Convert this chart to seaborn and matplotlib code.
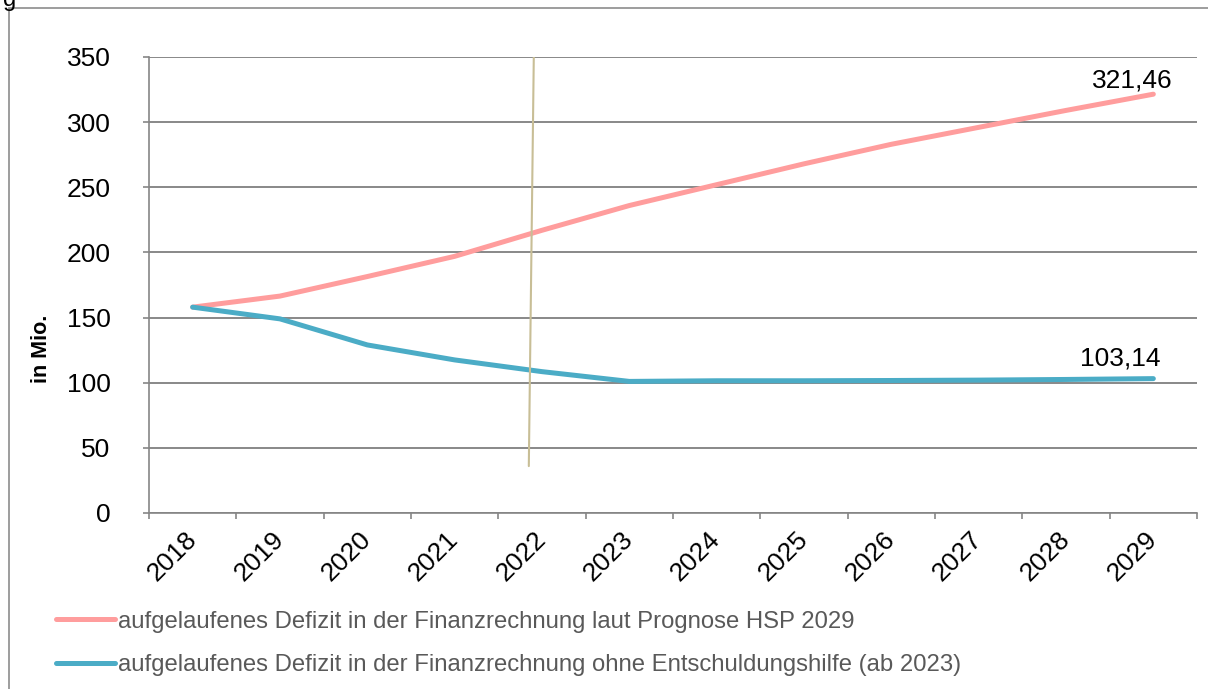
from matplotlib import pyplot as plt
from matplotlib.lines import Line2D
from matplotlib.patches import Rectangle
import seaborn as sns
import pandas as pd

years = [2018, 2019, 2020, 2021, 2022, 2023, 2024, 2025, 2026, 2027, 2028, 2029]
prognose = [158, 166.5, 181.5, 197, 217, 236, 252, 268, 283, 296, 309, 321.46]
ohne_hilfe = [158, 149, 129, 117.5, 108.5, 101, 101.5, 101.5, 101.7, 102, 102.5, 103.14]
labels = ["aufgelaufenes Defizit in der Finanzrechnung laut Prognose HSP 2029",
          "aufgelaufenes Defizit in der Finanzrechnung ohne Entschuldungshilfe (ab 2023)"]
end_labels = ["321,46", "103,14"]
# hand-drawn marker line (x in category index, y in data units)
marker_x = [3.906, 3.849]
marker_y = [350, 36]

colors = ["#FF9D9D", "#4BACC6"]

df = pd.DataFrame({
    "idx": list(range(len(years))) * 2,
    "value": prognose + ohne_hilfe,
    "series": [labels[0]] * len(years) + [labels[1]] * len(years),
})

sns.set_style("white")
plt.rcParams['font.family'] = ['Liberation Sans', 'DejaVu Sans']
plt.rcParams['text.color'] = 'black'
plt.rcParams['xtick.color'] = 'black'
plt.rcParams['ytick.color'] = 'black'
plt.rcParams['axes.labelcolor'] = 'black'

fig = plt.figure(figsize=(12.08, 6.89), dpi=100)
ax = fig.add_axes([149 / 1208, 1 - 513 / 689, (1197 - 149) / 1208, (513 - 57) / 689])

sns.lineplot(data=df, x="idx", y="value", hue="series", palette=colors,
             linewidth=3.6, ax=ax, legend=False, zorder=3)
for line in ax.lines:
    line.set_solid_capstyle("round")

ax.plot(marker_x, marker_y, color="#C8BE96", linewidth=1.5, zorder=4)

ax.set_xlim(-0.5, len(years) - 0.5)
ax.set_ylim(0, 350)
ax.set_yticks(range(0, 351, 50))
ax.yaxis.grid(True, color="#7F7F7F", linewidth=1.3)
ax.xaxis.grid(False)
ax.set_axisbelow(True)

ax.set_xticks(range(len(years)))
ax.set_xticklabels([str(y) for y in years], rotation=45, ha="right",
                   va="center", rotation_mode="anchor", fontsize=19)
ax.set_xticks([i - 0.5 for i in range(len(years) + 1)], minor=True)
ax.tick_params(axis="x", which="major", length=0, pad=16, labelcolor="black")
ax.tick_params(axis="x", which="minor", length=4.3, width=1.2, color="#868686", direction="out")
ax.tick_params(axis="y", length=4.3, width=1.2, color="#868686", direction="out",
               labelsize=19, pad=23.5, labelcolor="black")
ax.tick_params(bottom=True, left=True, which="both")

for side in ["top", "right"]:
    ax.spines[side].set_visible(False)
for side in ["left", "bottom"]:
    ax.spines[side].set_color("#868686")
    ax.spines[side].set_linewidth(1.2)

ax.set_xlabel("")
ax.set_ylabel("in Mio.", fontsize=15.5, fontweight="bold", color="black")
ax.yaxis.set_label_coords(-0.0925, 0.36)

ax.text(len(years) - 1 + 0.215, prognose[-1] + 1, end_labels[0], ha="right", va="bottom",
        fontsize=19, color="black")
ax.text(len(years) - 1 + 0.085, ohne_hilfe[-1] + 6, end_labels[1], ha="right", va="bottom",
        fontsize=19, color="black")

handles = [Line2D([0], [0], color=c, linewidth=3.6, solid_capstyle="round") for c in colors]
fig.legend(handles, labels, loc="lower left", bbox_to_anchor=(34 / 1208, -9 / 689),
           frameon=False, fontsize=17.2, handlelength=2.5, handletextpad=0.13,
           labelspacing=0.92, labelcolor="#595959")

fig.patches.append(Rectangle((9 / 1208, -0.01), 1.0, 1 - 8 / 689 + 0.01,
                             transform=fig.transFigure, fill=False,
                             edgecolor="#8C8C8C", linewidth=1.2))
fig.text(3 / 1208, 1.0, "g", fontsize=17, ha="left", va="center", color="black")

fig.savefig("out.png", dpi=100)
